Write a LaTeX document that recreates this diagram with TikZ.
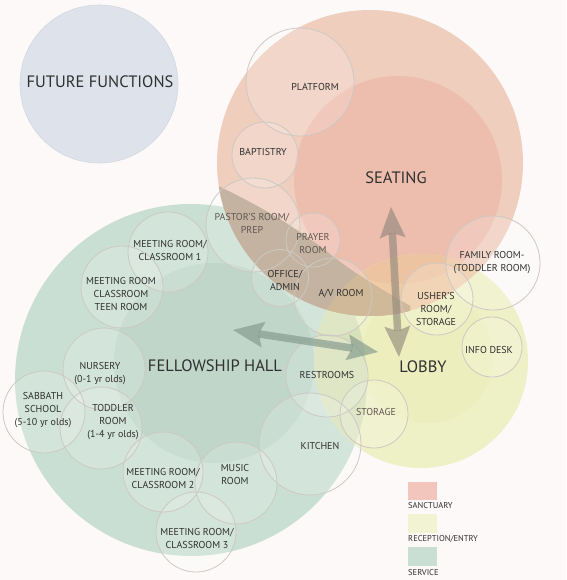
\documentclass[tikz,border=0pt]{standalone}
\usepackage{fontspec}
\setmainfont{PT Sans}
\usetikzlibrary{arrows.meta}
\definecolor{bg}{HTML}{FCF9F8}
\definecolor{ffc}{HTML}{DEE3EB}
\definecolor{ffs}{HTML}{D3D8E0}
\definecolor{fcol}{HTML}{CADFD3}
\definecolor{gcol}{HTML}{BFD6C9}
\definecolor{scol}{HTML}{EFCEBE}
\definecolor{tcol}{HTML}{EDBEAE}
\definecolor{lcol}{HTML}{EEF0C6}
\definecolor{licol}{HTML}{ECEEBE}
\definecolor{sfcol}{HTML}{C3B3A0}
\definecolor{slcol}{HTML}{EFCBA6}
\definecolor{tlcol}{HTML}{EDC4A2}
\definecolor{flcol}{HTML}{D7E1BA}
\definecolor{sflcol}{HTML}{D0B998}
\definecolor{ringc}{HTML}{CDC8C3}
\definecolor{txt}{HTML}{303030}
\definecolor{txtl}{HTML}{625854}
\definecolor{varc}{HTML}{8E877B}
\definecolor{harc}{HTML}{7D9488}
\definecolor{legs}{HTML}{F3C6BD}
\definecolor{legr}{HTML}{F2F3D3}
\definecolor{legv}{HTML}{C9DFD3}
\begin{document}
\begin{tikzpicture}[x=1pt,y=-1pt,
  roomfill/.style={fill=white, fill opacity=0.18},
  roomring/.style={draw=ringc, line width=0.8pt},
  lbl/.style={font=\fontsize{10}{13}\selectfont, text=txt, align=center, inner sep=0pt},
  lbll/.style={lbl, text=txtl},
  big/.style={font=\fontsize{16.5}{18}\selectfont, text=txt, inner sep=0pt},
  leg/.style={font=\fontsize{8.5}{10}\selectfont, text=txt, inner sep=0pt, anchor=west},
  bigarrow/.style={line width=7.5pt, {Stealth[length=31pt,width=26pt,inset=5pt,line width=0pt]}-{Stealth[length=31pt,width=26pt,inset=5pt,line width=0pt]}}
]
\useasboundingbox (0,0) rectangle (566,580);
\fill[bg] (0,0) rectangle (566,580);

% zone centres
\coordinate (FFc) at (99,84);
\coordinate (Fc) at (191,380);
\coordinate (Gc) at (214,363);
\coordinate (Sc) at (370,163);
\coordinate (Tc) at (398,180);
\coordinate (Lc) at (421,361);
\coordinate (LIc) at (427,357);

% future functions
\fill[ffc] (FFc) circle[radius=79pt];
\draw[ffs, line width=0.6pt] (FFc) circle[radius=79pt];

% zones
\fill[fcol] (Fc) circle[radius=176pt];
\fill[gcol] (Gc) circle[radius=100pt];
\fill[scol] (Sc) circle[radius=153pt];
\fill[tcol] (Tc) circle[radius=104pt];
\fill[lcol] (Lc) circle[radius=107pt];
\fill[licol] (LIc) circle[radius=66pt];

% overlaps
\begin{scope}
  \clip (Sc) circle[radius=153pt];
  \fill[slcol] (Lc) circle[radius=107pt];
\end{scope}
\begin{scope}
  \clip (Tc) circle[radius=104pt];
  \fill[tlcol] (Lc) circle[radius=107pt];
\end{scope}
\begin{scope}
  \clip (Fc) circle[radius=176pt];
  \clip (Lc) circle[radius=107pt];
  \fill[flcol] (0,0) rectangle (566,580);
\end{scope}

% room circles: fills
\foreach \cx/\cy/\r in {300/82/54, 265/155/33, 253/225/47, 313/240/27, 280/278/28.5,
  333/297/39, 493/263/47, 437/299/36, 492/347/30, 327/376/41, 374/414/34, 310/444/51,
  168/252/40, 122/287/41, 104/369/41, 44/412/41, 101/428/41, 163/472/40, 236/483/41, 196/532/40}
  \fill[roomfill] (\cx,\cy) circle[radius=\r pt];

% sanctuary / fellowship band
\begin{scope}
  \clip (Sc) circle[radius=153pt];
  \fill[sfcol] (205,180) .. controls (250,200) and (295,226) .. (330,254) .. controls (355,274) and (382,290) .. (410,306) -- (410,600) -- (0,600) -- (0,180) -- cycle;
  \clip (Lc) circle[radius=107pt];
  \fill[sflcol] (205,180) .. controls (250,200) and (295,226) .. (330,254) .. controls (355,274) and (382,290) .. (410,306) -- (410,600) -- (0,600) -- (0,180) -- cycle;
\end{scope}

% room circles: rings
\foreach \cx/\cy/\r in {300/82/54, 265/155/33, 253/225/47, 313/240/27, 280/278/28.5,
  333/297/39, 493/263/47, 437/299/36, 492/347/30, 327/376/41, 374/414/34, 310/444/51,
  168/252/40, 122/287/41, 104/369/41, 44/412/41, 101/428/41, 163/472/40, 236/483/41, 196/532/40}
  \draw[roomring] (\cx,\cy) circle[radius=\r pt];

% labels
\node[big] (future) at (100,82) {FUTURE FUNCTIONS};
\node[big] (seating) at (396,178) {SEATING};
\node[big] (fellow) at (215,366) {FELLOWSHIP HALL};
\node[big] (lobby) at (423,367) {LOBBY};

\node[lbl] (platform) at (315,87) {PLATFORM};
\node[lbl] (baptistry) at (263,152) {BAPTISTRY};
\node[lbll] (pastor) at (252,223) {PASTOR'S ROOM/\\PREP};
\node[lbll] (prayer) at (313,243.5) {PRAYER\\ROOM};
\node[lbl] (office) at (285,280.5) {OFFICE/\\ADMIN};
\node[lbl] (av) at (341,294) {A/V ROOM};
\node[lbl] (family) at (492,262.5) {FAMILY ROOM-\\(TODDLER ROOM)};
\node[lbl] (usher) at (436,309) {USHER'S\\ROOM/\\STORAGE};
\node[lbl] (info) at (489,350) {INFO DESK};
\node[lbl] (rest) at (327,375) {RESTROOMS};
\node[lbll] (storage) at (376,412) {STORAGE};
\node[lbl] (kitchen) at (320,446) {KITCHEN};
\node[lbl] (mr1) at (170,250.5) {MEETING ROOM/\\CLASSROOM 1};
\node[lbl] (teen) at (121,294) {MEETING ROOM\\CLASSROOM\\TEEN ROOM};
\node[lbl] (nursery) at (100,373.5) {NURSERY\\(0-1 yr olds)};
\node[lbl] (sabbath) at (43,410) {SABBATH\\SCHOOL\\(5-10 yr olds)};
\node[lbl] (toddler) at (113,422) {TODDLER\\ROOM\\(1-4 yr olds)};
\node[lbl] (mr2) at (163,478.5) {MEETING ROOM/\\CLASSROOM 2};
\node[lbl] (music) at (235,474) {MUSIC\\ROOM};
\node[lbl] (mr3) at (197,538) {MEETING ROOM/\\CLASSROOM 3};

% arrows
\coordinate (vtop) at (391,207);
\coordinate (vbot) at (399,357);
\coordinate (hleft) at (233,330);
\coordinate (hright) at (378,352);
\draw[bigarrow, draw=varc, fill=varc, opacity=0.62] (vtop) -- (vbot);
\draw[bigarrow, draw=harc, fill=harc, opacity=0.62] (hleft) -- (hright);

% legend
\fill[legs] (408,482) rectangle (437,500);
\node[leg] (lsanc) at (408,506) {SANCTUARY};
\fill[legr] (408,514) rectangle (437,533);
\node[leg] (lrec) at (408,539) {RECEPTION/ENTRY};
\fill[legv] (408,547) rectangle (437,566);
\node[leg] (lserv) at (408,573) {SERVICE};
\end{tikzpicture}
\end{document}
